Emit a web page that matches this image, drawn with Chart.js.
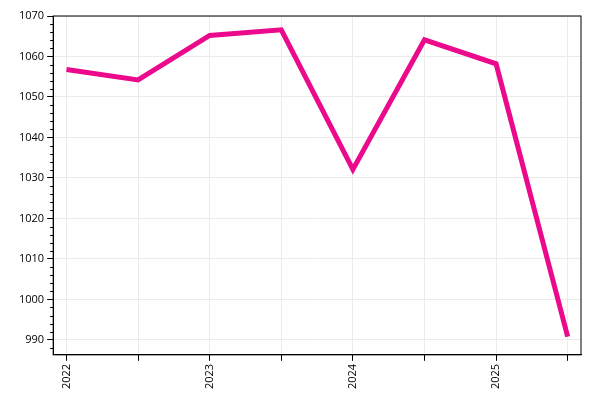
<!DOCTYPE html>
<html>
<head>
<script src="https://cdn.jsdelivr.net/npm/chart.js@4"></script>
<style>body{margin:0;background:#fff}</style>
</head>
<body>
<canvas id="myChart" width="600" height="400"></canvas>
<script>
const periods = [2022, 2022.5, 2023, 2023.5, 2024, 2024.5, 2025, 2025.5];
const values = [1056.8, 1054.2, 1065.2, 1066.6, 1032.1, 1064.1, 1058.2, 990.8];
const yTicks = [990, 1000, 1010, 1020, 1030, 1040, 1050, 1060, 1070];

// box around plot + short minor ticks on the y axis
const boxPlugin = {
  id: "box",
  afterDraw(chart) {
    const { ctx, chartArea: a, scales } = chart;
    ctx.save();
    ctx.strokeStyle = "#000";
    ctx.lineWidth = 1;
    ctx.strokeRect(a.left, a.top, a.right - a.left, a.bottom - a.top);
    ctx.beginPath();
    for (let v = 988; v <= 1070; v += 2) {
      if (v % 10 === 0) continue;
      const y = Math.round(scales.y.getPixelForValue(v)) + 0.5;
      ctx.moveTo(a.left - 3, y);
      ctx.lineTo(a.left, y);
    }
    ctx.stroke();
    ctx.restore();
  },
};

new Chart(document.getElementById("myChart"), {
  type: "line",
  data: {
    datasets: [{
      data: periods.map((p, i) => ({ x: p, y: values[i] })),
      borderColor: "#ec0a8c",
      borderWidth: 5,
      pointRadius: 0,
      tension: 0,
    }],
  },
  options: {
    responsive: false,
    animation: false,
    layout: { padding: { left: 16, right: 19, top: 16, bottom: 8 } },
    plugins: { legend: { display: false }, tooltip: { enabled: false } },
    scales: {
      x: {
        type: "linear",
        min: 2021.907,
        max: 2025.593,
        afterBuildTicks: (s) => { s.ticks = periods.map((p) => ({ value: p })); },
        ticks: {
          autoSkip: false,
          maxRotation: 90,
          minRotation: 90,
          color: "#000",
          font: { family: "Open Sans", size: 11 },
          callback: (v) => (v % 1 === 0 ? String(v) : ""),
        },
        grid: { color: "#ebebeb", tickColor: "#000", tickLength: 6 },
        border: { color: "#000" },
      },
      y: {
        min: 986.3,
        max: 1070,
        afterBuildTicks: (s) => { s.ticks = yTicks.map((v) => ({ value: v })); },
        ticks: {
          autoSkip: false,
          color: "#000",
          font: { family: "Open Sans", size: 11 },
          callback: (v) => String(v),
        },
        grid: { color: "#ebebeb", tickColor: "#000", tickLength: 6 },
        border: { color: "#000" },
      },
    },
  },
  plugins: [boxPlugin],
});
</script>
</body>
</html>
